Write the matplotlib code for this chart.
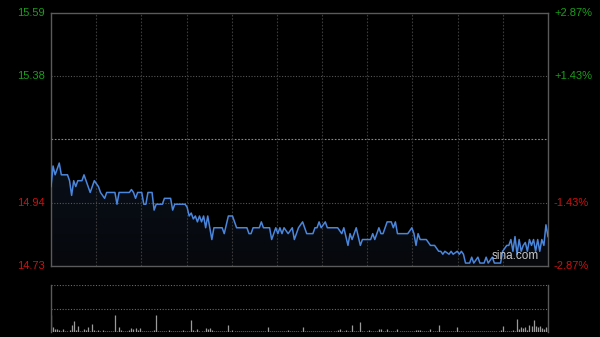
import numpy as np
import matplotlib
matplotlib.use('Agg')
import matplotlib.pyplot as plt

# intraday minute index (0 = open, 241 = close) and price
minutes = [0, 1, 2, 3, 4, 5, 8, 9, 10, 11, 12, 13, 15, 16, 17, 19, 21, 23, 24, 26,
           27, 31, 32, 33, 38, 39, 40, 41, 42, 44, 45, 46, 47, 49, 50, 51, 54, 55, 58, 59,
           60, 65, 66, 67, 68, 69, 70, 71, 72, 73, 74, 75, 76, 77, 78, 79, 83, 84, 86, 88,
           89, 90, 95, 96, 97, 98, 101, 102, 103, 106, 107, 109, 110, 111, 112, 113, 115, 117, 118, 120,
           122, 124, 127, 128, 129, 130, 131, 133, 134, 139, 141, 142, 144, 145, 146, 148, 150, 151, 155, 156,
           157, 159, 160, 161, 163, 165, 166, 167, 168, 173, 175, 176, 177, 178, 179, 182, 184, 186, 188, 189,
           190, 191, 193, 194, 195, 197, 198, 199, 200, 201, 203, 204, 205, 207, 208, 210, 211, 212, 214, 215,
           218, 219, 221, 222, 223, 224, 225, 226, 227, 228, 229, 230, 231, 232, 233, 234, 235, 236, 237, 238,
           239, 240, 241]
prices = [15.00, 15.07, 15.04, 15.06, 15.08, 15.04, 15.04, 15.02, 14.97, 15.02, 15.00, 15.02, 15.02, 15.04, 15.02, 14.98, 15.02, 15.00, 14.98, 14.96,
          14.98, 14.98, 14.94, 14.98, 14.98, 14.99, 14.98, 14.96, 14.98, 14.98, 14.94, 14.94, 14.98, 14.98, 14.92, 14.94, 14.94, 14.96, 14.96, 14.92,
          14.94, 14.94, 14.93, 14.90, 14.91, 14.89, 14.90, 14.88, 14.90, 14.88, 14.90, 14.86, 14.90, 14.86, 14.82, 14.86, 14.86, 14.84, 14.90, 14.90,
          14.88, 14.86, 14.86, 14.84, 14.84, 14.86, 14.86, 14.88, 14.86, 14.86, 14.82, 14.86, 14.84, 14.86, 14.84, 14.86, 14.84, 14.86, 14.82, 14.86,
          14.88, 14.84, 14.84, 14.86, 14.86, 14.88, 14.86, 14.88, 14.86, 14.86, 14.84, 14.86, 14.80, 14.84, 14.82, 14.86, 14.80, 14.82, 14.82, 14.84,
          14.82, 14.86, 14.84, 14.84, 14.88, 14.88, 14.86, 14.88, 14.84, 14.84, 14.86, 14.84, 14.80, 14.84, 14.82, 14.82, 14.80, 14.80, 14.78, 14.78,
          14.77, 14.78, 14.77, 14.78, 14.77, 14.78, 14.77, 14.78, 14.77, 14.74, 14.74, 14.76, 14.74, 14.76, 14.74, 14.74, 14.76, 14.74, 14.76, 14.74,
          14.74, 14.78, 14.80, 14.80, 14.82, 14.78, 14.83, 14.77, 14.82, 14.78, 14.80, 14.81, 14.78, 14.82, 14.80, 14.82, 14.78, 14.82, 14.78, 14.82,
          14.80, 14.87, 14.83]

# per-minute volume (arbitrary lots)
volume = [17, 5, 3, 3, 2, 1, 3, 1, 1, 2,
          7, 11, 2, 6, 1, 1, 3, 2, 5, 1,
          8, 2, 1, 2, 1, 2, 1, 1, 1, 1,
          1, 17, 1, 5, 2, 1, 1, 1, 2, 4,
          3, 4, 2, 4, 1, 1, 1, 1, 1, 1,
          2, 17, 1, 1, 1, 1, 1, 2, 1, 1,
          1, 1, 1, 1, 2, 1, 1, 1, 12, 2,
          1, 3, 1, 1, 1, 4, 3, 4, 2, 1,
          1, 1, 1, 1, 1, 1, 7, 1, 2, 1,
          1, 1, 1, 1, 1, 1, 1, 1, 1, 1,
          1, 1, 1, 1, 1, 5, 1, 1, 1, 1,
          1, 1, 1, 1, 1, 2, 1, 1, 1, 1,
          1, 1, 5, 1, 1, 1, 1, 1, 1, 1,
          1, 1, 1, 1, 1, 1, 1, 1, 1, 2,
          3, 1, 1, 2, 1, 1, 7, 1, 1, 1,
          10, 1, 1, 1, 2, 1, 1, 1, 1, 3,
          3, 1, 1, 3, 1, 1, 1, 1, 3, 1,
          1, 1, 1, 1, 1, 1, 1, 2, 2, 2,
          1, 1, 1, 1, 3, 1, 1, 1, 7, 1,
          1, 1, 1, 1, 1, 1, 1, 5, 1, 1,
          1, 1, 1, 1, 1, 1, 1, 1, 1, 1,
          1, 1, 1, 1, 1, 1, 1, 1, 2, 6,
          1, 1, 1, 1, 2, 1, 13, 3, 5, 4,
          5, 2, 7, 6, 12, 6, 5, 6, 4, 3,
          5, 4]

price_low, price_high = 14.73, 15.59
left_labels = ['14.73', '14.94', '', '15.38', '15.59']
right_labels = ['-2.87%', '-1.43%', '', '+1.43%', '+2.87%']
label_colours = ['#cc1111', '#cc1111', None, '#1a9e1a', '#1a9e1a']

bg = '#000000'
border = '#5a5a5a'
grid = '#3a3a3a'
line_colour = '#4a86dc'

plt.rcParams['font.family'] = ['Liberation Sans', 'DejaVu Sans']

fig = plt.figure(figsize=(6.0, 3.37), dpi=100, facecolor=bg)
ax = fig.add_axes([51/600, 1 - 266/337, 497/600, 253/337], facecolor=bg)
axv = fig.add_axes([51/600, 1 - 332/337, 497/600, 47/337], facecolor=bg)

n_min = 241
ax.set_xlim(0, n_min)
ax.set_ylim(price_low, price_high)

# gradient fill under the price line
grad = np.linspace(0, 1, 256).reshape(-1, 1)
img = ax.imshow(grad, extent=[0, n_min, price_low, price_high], origin='lower',
                aspect='auto', cmap=matplotlib.colors.LinearSegmentedColormap.from_list(
                    'f', ['#06080c', '#0e1a2c']), zorder=1)
poly = ax.fill_between(minutes, prices, price_low, color='none', lw=0)
img.set_clip_path(poly.get_paths()[0], transform=ax.transData)

ax.plot(minutes, prices, color=line_colour, lw=1.1, zorder=3)

# grid
ticks = np.linspace(price_low, price_high, 5)
for i, t in enumerate(ticks[1:-1], start=1):
    if i == 2:
        ax.axhline(t, color='#8a8a8a', lw=0.8, ls=(0, (1.5, 1.5)), zorder=2)
    else:
        ax.axhline(t, color='#555555', lw=0.8, ls=(0, (1, 1.5)), zorder=2)
for xv in np.linspace(0, n_min, 12)[1:-1]:
    ax.axvline(xv, color=grid, lw=0.8, ls=(0, (1.5, 1.5)), zorder=2)

ax.set_xticks([])
ax.set_yticks([])
for s in ax.spines.values():
    s.set_color(border)
    s.set_linewidth(1.0)

for t, lt, rt, c in zip(ticks, left_labels, right_labels, label_colours):
    if not lt:
        continue
    ax.text(-0.012, t, lt, transform=ax.get_yaxis_transform(), ha='right', va='center',
            color=c, fontsize=8)
    ax.text(1.012, t, rt, transform=ax.get_yaxis_transform(), ha='left', va='center',
            color=c, fontsize=8)

ax.text(0.982, 0.016, 'sina.com', transform=ax.transAxes, ha='right', va='bottom',
        color='#c8c8c8', fontsize=8.5, zorder=4)

# volume panel
vmax = 47
axv.set_xlim(0, n_min)
axv.set_ylim(0, vmax)
axv.vlines(np.arange(len(volume)), 0, volume, color='#9a9a9a', lw=0.9)
axv.axhline(vmax, color='#6a6a6a', lw=0.8, ls=(0, (1, 1.5)))
axv.axhline(vmax / 2, color='#6a6a6a', lw=0.8, ls=(0, (1, 1.5)))
axv.set_xticks([])
axv.set_yticks([])
for side in ['top', 'bottom']:
    axv.spines[side].set_visible(False)
for side in ['left', 'right']:
    axv.spines[side].set_color(border)
    axv.spines[side].set_linewidth(1.0)

fig.savefig('out.png', dpi=100, facecolor=bg)
